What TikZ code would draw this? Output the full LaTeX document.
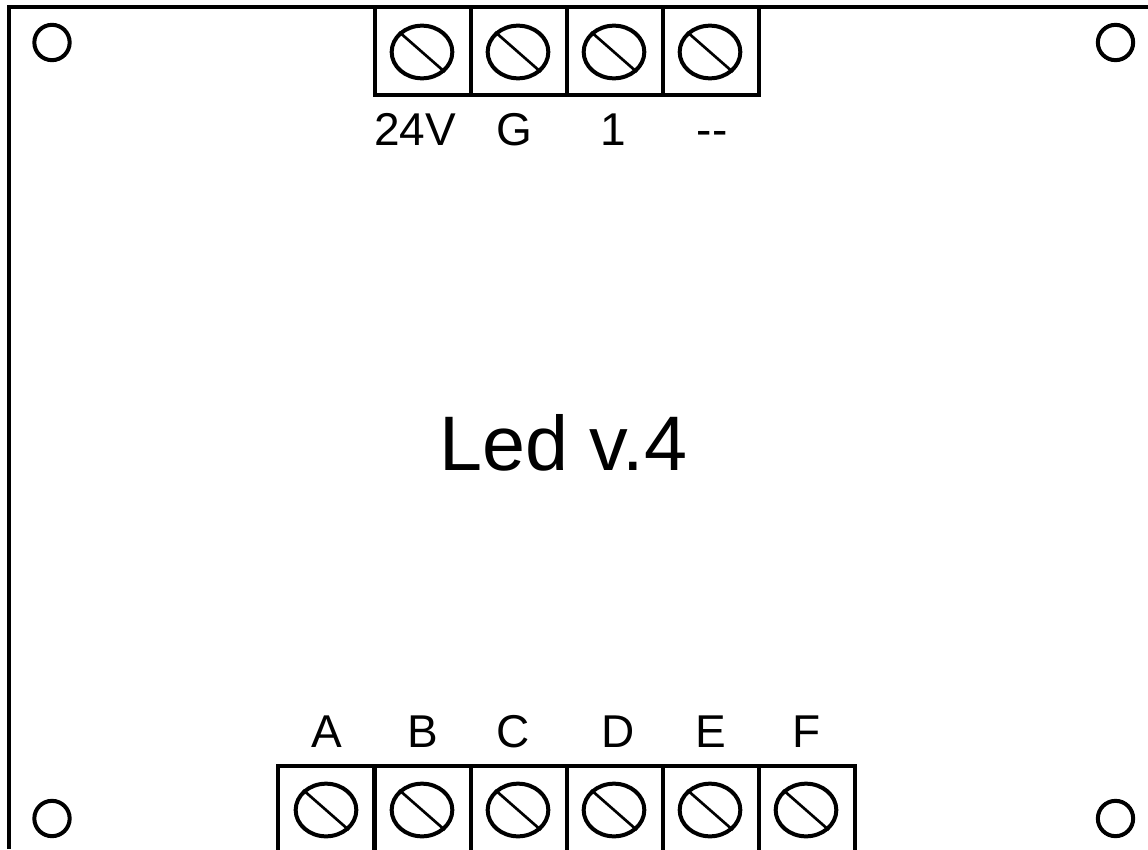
\documentclass[tikz,border=0pt]{standalone}
\usepackage{fontspec}
\setmainfont{Liberation Sans}
\usetikzlibrary{shapes.geometric}
\tikzset{terminal/.style = {shape=rectangle,draw,line width=3pt,minimum width=72pt,minimum height=66pt,inner sep=0pt}}
\tikzset{screw/.style = {shape=ellipse,draw,line width=3pt,minimum width=45.5pt,minimum height=39.5pt,inner sep=0pt}}
\tikzset{hole/.style = {shape=circle,draw,line width=3pt,minimum size=26.5pt,inner sep=0pt}}
\tikzset{slot/.style = {line width=2pt}}
\tikzset{pin/.style = {anchor=base,inner sep=0pt,font=\fontsize{34.5pt}{34.5pt}\selectfont}}
\tikzset{board/.style = {line width=3pt}}

\begin{document}
\begin{tikzpicture}[x=0.75pt,y=-0.75pt]
          \useasboundingbox (0, 0) rectangle (1148, 849);

          % board outline, open at right and bottom
          \coordinate (bl) at (9, 849);
          \coordinate (tl) at (9, 7);
          \coordinate (tr) at (1148, 7);
          \draw[board] (bl) -- (tl) -- (tr);

          % mounting holes
          \node[hole] (h1) at (52, 42.5) {};
          \node[hole] (h2) at (1115.5, 42.5) {};
          \node[hole] (h3) at (52, 818.5) {};
          \node[hole] (h4) at (1115.5, 818.5) {};

          % top terminals
          \node[terminal] (t1) at (423, 51) {};
          \node[terminal] (t2) at (519, 51) {};
          \node[terminal] (t3) at (615, 51) {};
          \node[terminal] (t4) at (711, 51) {};
          \node[screw] (ts1) at (422, 52) {};
          \node[screw] (ts2) at (518, 52) {};
          \node[screw] (ts3) at (614, 52) {};
          \node[screw] (ts4) at (710, 52) {};
          \draw[slot] (ts1.north west) to (ts1.south east);
          \draw[slot] (ts2.north west) to (ts2.south east);
          \draw[slot] (ts3.north west) to (ts3.south east);
          \draw[slot] (ts4.north west) to (ts4.south east);
          \node[pin] (l1) at (415, 145) {24V};
          \node[pin] (l2) at (514, 145) {G};
          \node[pin] (l3) at (613, 145) {1};
          \node[pin] (l4) at (712, 145) {-{}-};

          % bottom terminals
          \node[terminal] (b1) at (326, 810) {};
          \node[terminal] (b2) at (423, 810) {};
          \node[terminal] (b3) at (519, 810) {};
          \node[terminal] (b4) at (615, 810) {};
          \node[terminal] (b5) at (711, 810) {};
          \node[terminal] (b6) at (807, 810) {};
          \node[screw] (bs1) at (326, 810) {};
          \node[screw] (bs2) at (422, 810) {};
          \node[screw] (bs3) at (518, 810) {};
          \node[screw] (bs4) at (614, 810) {};
          \node[screw] (bs5) at (710, 810) {};
          \node[screw] (bs6) at (806, 810) {};
          \draw[slot] (bs1.north west) to (bs1.south east);
          \draw[slot] (bs2.north west) to (bs2.south east);
          \draw[slot] (bs3.north west) to (bs3.south east);
          \draw[slot] (bs4.north west) to (bs4.south east);
          \draw[slot] (bs5.north west) to (bs5.south east);
          \draw[slot] (bs6.north west) to (bs6.south east);
          \node[pin] (la) at (327, 747) {A};
          \node[pin] (lb) at (423, 747) {B};
          \node[pin] (lc) at (513, 747) {C};
          \node[pin] (ld) at (618, 747) {D};
          \node[pin] (le) at (711, 747) {E};
          \node[pin] (lf) at (807, 747) {F};

          \node[anchor=base,inner sep=0pt,font=\fontsize{58pt}{58pt}\selectfont] (title) at (563.5, 470.5) {Led v.4};
        \end{tikzpicture}
\end{document}
